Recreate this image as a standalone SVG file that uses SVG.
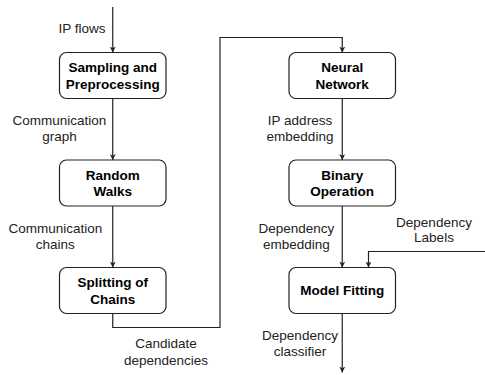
<svg xmlns="http://www.w3.org/2000/svg" width="485" height="375" viewBox="0 0 485 375">
<style>
.box{fill:#fff;stroke:#222;stroke-width:1.2}
.n{font-family:"Liberation Sans",Arial,sans-serif;font-size:13.5px;font-weight:bold;fill:#000;text-anchor:middle}
.l{font-family:"Liberation Sans",Arial,sans-serif;font-size:13.5px;fill:#222;text-anchor:middle}
.c{fill:none;stroke:#222;stroke-width:1.2}
</style>
<defs>
<marker id="ah" viewBox="0 0 10 10" refX="10" refY="5" markerWidth="6" markerHeight="6" markerUnits="userSpaceOnUse" orient="auto">
<path d="M0,0 L10,5 L0,10 L3,5 Z" fill="#222"/>
</marker>
</defs>
<rect width="485" height="375" fill="#fff"/>
<g id="connectors">
<path class="c" d="M112.75,7 V52.5" marker-end="url(#ah)"/>
<path class="c" d="M112.75,98.5 V160" marker-end="url(#ah)"/>
<path class="c" d="M112.75,206 V267.5" marker-end="url(#ah)"/>
<path class="c" d="M112.75,313.5 V327.5 H220 V37.5 H342.25 V52.5" marker-end="url(#ah)"/>
<path class="c" d="M342.25,98.5 V160" marker-end="url(#ah)"/>
<path class="c" d="M342.25,206 V267.5" marker-end="url(#ah)"/>
<path class="c" d="M485,251.5 H368.5 V267.5" marker-end="url(#ah)"/>
<path class="c" d="M342.25,313.5 V372.5" marker-end="url(#ah)"/>
<text class="l" x="82" y="33">IP flows</text>
<text class="l" x="59.5" y="124.8">Communication</text>
<text class="l" x="59.5" y="140.8">graph</text>
<text class="l" x="55.3" y="233">Communication</text>
<text class="l" x="55.3" y="249">chains</text>
<text class="l" x="166" y="348">Candidate</text>
<text class="l" x="166" y="364.5">dependencies</text>
<text class="l" x="300" y="124.8">IP address</text>
<text class="l" x="300" y="140.8">embedding</text>
<text class="l" x="296.3" y="233">Dependency</text>
<text class="l" x="296.3" y="249">embedding</text>
<text class="l" x="434" y="226.5">Dependency</text>
<text class="l" x="434" y="242">Labels</text>
<text class="l" x="300" y="339.8">Dependency</text>
<text class="l" x="300" y="356">classifier</text>
</g>
<g id="sampling">
<rect class="box" x="59.5" y="52.5" width="106.5" height="46" rx="7"/>
<text class="n" x="112.75" y="72">Sampling and</text>
<text class="n" x="112.75" y="88.5">Preprocessing</text>
</g>
<g id="random-walks">
<rect class="box" x="59.5" y="160" width="106.5" height="46" rx="7"/>
<text class="n" x="112.75" y="179.5">Random</text>
<text class="n" x="112.75" y="196">Walks</text>
</g>
<g id="splitting">
<rect class="box" x="59.5" y="267.5" width="106.5" height="46" rx="7"/>
<text class="n" x="112.75" y="287">Splitting of</text>
<text class="n" x="112.75" y="303.5">Chains</text>
</g>
<g id="neural-network">
<rect class="box" x="289" y="52.5" width="106.5" height="46" rx="7"/>
<text class="n" x="342.25" y="72">Neural</text>
<text class="n" x="342.25" y="88.5">Network</text>
</g>
<g id="binary-operation">
<rect class="box" x="289" y="160" width="106.5" height="46" rx="7"/>
<text class="n" x="342.25" y="179.5">Binary</text>
<text class="n" x="342.25" y="196">Operation</text>
</g>
<g id="model-fitting">
<rect class="box" x="289" y="267.5" width="106.5" height="46" rx="7"/>
<text class="n" x="342.25" y="295.3">Model Fitting</text>
</g>
</svg>
